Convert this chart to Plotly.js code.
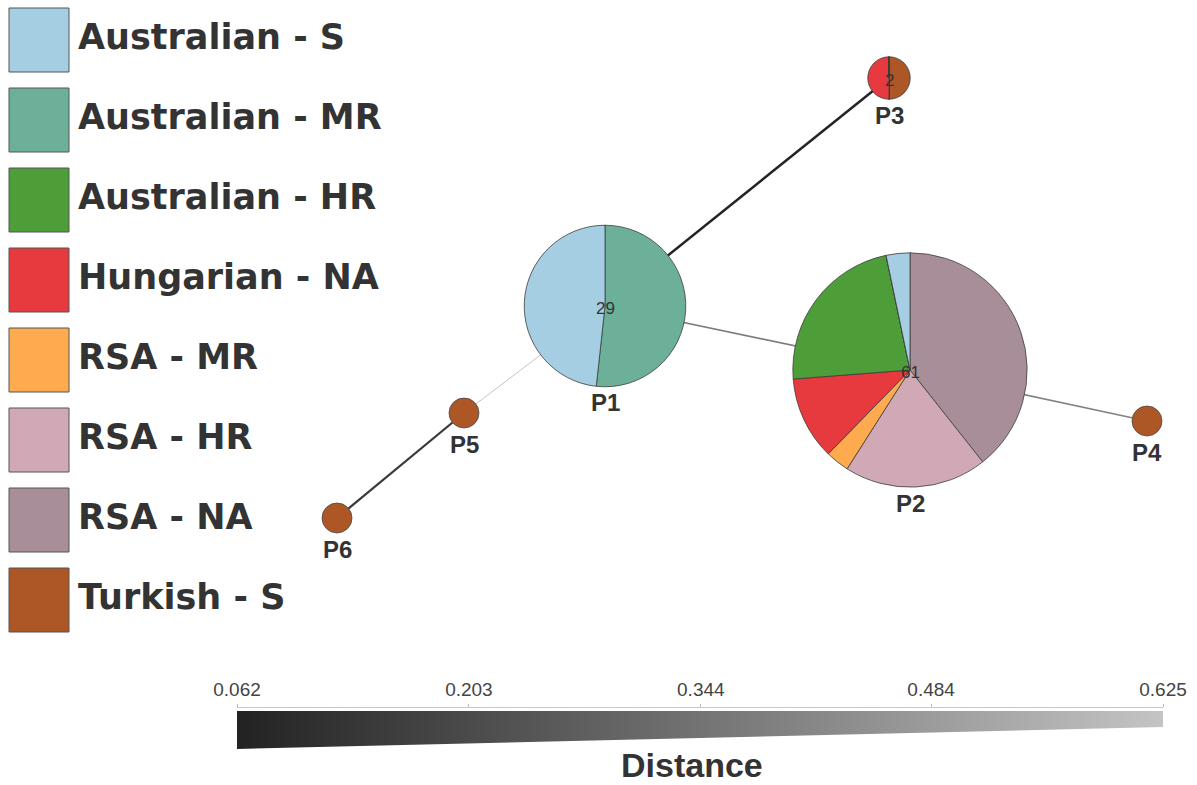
<!DOCTYPE html>
<html>
<head>
<meta charset="utf-8">
<script src="https://cdn.plot.ly/plotly-3.0.1.min.js"></script>
<style>html,body{margin:0;padding:0;background:#fff;}#chart{width:1197px;height:785px;}</style>
</head>
<body>
<div id="chart"></div>
<script>
// ---- data ----
const groups = ['Australian - S','Australian - MR','Australian - HR','Hungarian - NA','RSA - MR','RSA - HR','RSA - NA','Turkish - S'];
const groupColors = ['#a6cee3','#6db09a','#4d9e39','#e63a3f','#fdab4e','#d1a8b5','#a88e98','#ad5626'];
const haplotypes = ['P1','P2','P3','P4','P5','P6'];
// counts per haplotype, in the order of `groups`
const countsP1 = [14,15,0,0,0,0,0,0];
const countsP2 = [2,0,14,7,2,12,24,0];
const countsP3 = [0,0,0,1,0,0,0,1];
const countsP4 = [0,0,0,0,0,0,0,1];
const countsP5 = [0,0,0,0,0,0,0,1];
const countsP6 = [0,0,0,0,0,0,0,1];
const hapCounts = [countsP1,countsP2,countsP3,countsP4,countsP5,countsP6];
// network layout coordinates (drawing units)
const nodeX = [605, 910, 889, 1147, 464, 337];
const nodeY = [306, 370, 78, 421, 413, 518];
// edges and distances
const edgeFrom = ['P1','P1','P2','P1','P5'];
const edgeTo   = ['P3','P2','P4','P5','P6'];
const edgeDist = [0.07, 0.38, 0.40, 0.625, 0.15];
// distance scale ticks
const distTicks = [0.062, 0.203, 0.344, 0.484, 0.625];
const distTickText = ['0.062','0.203','0.344','0.484','0.625'];

// ---- build ----
const W = 1197, H = 785;
const dMin = distTicks[0], dMax = distTicks[distTicks.length-1];
const gLo = 34, gHi = 196;
function distT(d){ return (d - dMin)/(dMax - dMin); }
function grayOf(d){ const g = Math.round(gLo + (gHi-gLo)*distT(d)); return 'rgb('+g+','+g+','+g+')'; }
function widthOf(d){ return 2.5 - 1.5*distT(d); }

const traces = [];
// edges
edgeFrom.forEach((f,i)=>{
  const a = haplotypes.indexOf(f), b = haplotypes.indexOf(edgeTo[i]);
  traces.push({type:'scatter', mode:'lines', xaxis:'x', yaxis:'y',
    x:[nodeX[a], nodeX[b]], y:[nodeY[a], nodeY[b]],
    line:{color:grayOf(edgeDist[i]), width:widthOf(edgeDist[i])},
    hoverinfo:'skip', showlegend:false});
});
// colour-distance wedge
traces.push({type:'scatter', mode:'lines', xaxis:'x2', yaxis:'y2',
  x:[dMin, dMax, dMax, dMin, dMin], y:[40, 40, 24, 2, 40],
  fill:'toself', line:{width:0, color:'rgba(0,0,0,0)'},
  fillgradient:{type:'horizontal', colorscale:[[0,'rgb('+gLo+','+gLo+','+gLo+')'],[1,'rgb('+gHi+','+gHi+','+gHi+')']]},
  hoverinfo:'skip', showlegend:false});

// pies (slices go clockwise from 12 o'clock in reversed group order)
const annotations = [];
const shapes = [];
const scale = 15;
const revLabels = groups.slice().reverse();
const revColors = groupColors.slice().reverse();
hapCounts.forEach((vals,i)=>{
  const total = vals.reduce((s,v)=>s+v,0);
  const nonZero = vals.filter(v=>v>0).length;
  const r = scale*Math.sqrt(total);
  const cx = nodeX[i], cy = nodeY[i];
  const single = nonZero === 1;
  traces.push({type:'pie', labels:revLabels, values:vals.slice().reverse(), sort:false,
    direction:'clockwise', rotation:0, textinfo:'none', hoverinfo:'label+value',
    marker:{colors:revColors, line:{color:'#3c3c3c', width: single ? 0 : 0.8}},
    domain:{x:[(cx-r)/W,(cx+r)/W], y:[1-(cy+r)/H, 1-(cy-r)/H]},
    showlegend:false});
  if (single) {
    shapes.push({type:'circle', xref:'x', yref:'y', x0:cx-r, x1:cx+r, y0:cy-r, y1:cy+r,
      line:{color:'#4a4a4a', width:0.8}, fillcolor:'rgba(0,0,0,0)', layer:'above'});
  }
  if (total > 1) {
    annotations.push({xref:'x', yref:'y', x:cx, y:cy+2, text:String(total), showarrow:false,
      font:{family:'Liberation Sans, Arial, sans-serif', size:17, color:'#333'}});
  }
  annotations.push({xref:'x', yref:'y', x:cx, y:cy + r + 16, text:'<b>'+haplotypes[i]+'</b>', showarrow:false,
    font:{family:'Liberation Sans, Arial, sans-serif', size:24, color:'#333'}});
});

// legend
groups.forEach((g,i)=>{
  const top = 8 + 80*i;
  shapes.push({type:'rect', xref:'x', yref:'y', x0:9, x1:69, y0:top, y1:top+64,
    fillcolor:groupColors[i], line:{color:'#555', width:1}, layer:'above'});
  annotations.push({xref:'x', yref:'y', x:76, y:top+29, xanchor:'left', yanchor:'middle',
    text:'<b>'+g+'</b>', showarrow:false,
    font:{family:'DejaVu Sans, sans-serif', size:35, color:'#333'}});
});

annotations.push({xref:'x', yref:'y', x:692, y:765, text:'<b>Distance</b>', showarrow:false,
  font:{family:'Liberation Sans, Arial, sans-serif', size:34, color:'#333'}});

const layout = {
  width:W, height:H, margin:{l:0,r:0,t:0,b:0,pad:0},
  paper_bgcolor:'#fff', plot_bgcolor:'rgba(0,0,0,0)', showlegend:false,
  xaxis:{domain:[0,1], range:[0,W], visible:false, fixedrange:true},
  yaxis:{domain:[0,1], range:[H,0], visible:false, fixedrange:true},
  xaxis2:{domain:[237/W, 1163/W], anchor:'y2', side:'top', range:[dMin,dMax],
    tickmode:'array', tickvals:distTicks, ticktext:distTickText,
    showline:true, linecolor:'#c8c8c8', linewidth:1, ticks:'outside', ticklen:3, tickcolor:'#bbb',
    tickfont:{family:'Liberation Sans, Arial, sans-serif', size:19, color:'#444'},
    showgrid:false, zeroline:false, fixedrange:true},
  yaxis2:{domain:[1-751/H, 1-708/H], anchor:'x2', range:[0,43], visible:false, fixedrange:true},
  shapes:shapes, annotations:annotations
};
Plotly.newPlot('chart', traces, layout, {displayModeBar:false, staticPlot:true});
</script>
</body>
</html>
